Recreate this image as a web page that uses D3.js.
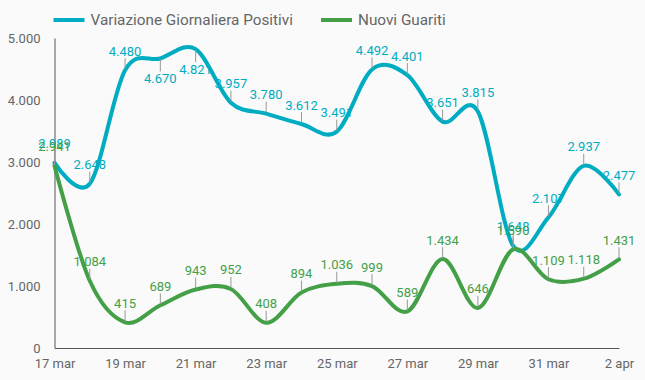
<!DOCTYPE html>
<html>
<head>
<meta charset="utf-8">
<script src="https://cdn.jsdelivr.net/npm/d3@7"></script>
<style>
  html, body { margin: 0; padding: 0; background: #fafafa; }
  svg { display: block; font-family: Roboto, "Noto Sans", sans-serif; }
</style>
</head>
<body>
<svg id="chart" width="645" height="380"></svg>
<script>
// ---- data ----
const dates = ["17 mar","18 mar","19 mar","20 mar","21 mar","22 mar","23 mar","24 mar","25 mar","26 mar","27 mar","28 mar","29 mar","30 mar","31 mar","1 apr","2 apr"];
const tickLabels = ["17 mar","19 mar","21 mar","23 mar","25 mar","27 mar","29 mar","31 mar","2 apr"];
const yTicks = [0, 1000, 2000, 3000, 4000, 5000];
const positivi = [2989, 2648, 4480, 4670, 4821, 3957, 3780, 3612, 3491, 4492, 4401, 3651, 3815, 1648, 2107, 2937, 2477];
const guariti  = [2941, 1084, 415, 689, 943, 952, 408, 894, 1036, 999, 589, 1434, 646, 1590, 1109, 1118, 1431];
const seriesNames = ["Variazione Giornaliera Positivi", "Nuovi Guariti"];

// ---- layout / style ----
const colors = ["#00acc1", "#43a047"];
const plot = { left: 54.5, right: 619, top: 38, bottom: 348 };
const svg = d3.select("#chart");
const it = d3.formatLocale({ decimal: ",", thousands: ".", grouping: [3], currency: ["€", ""] });
const fmt = it.format(",d");

const x = d3.scalePoint().domain(dates).range([plot.left, plot.right]);
const y = d3.scaleLinear().domain([0, 5000]).range([plot.bottom, plot.top]);

// axes
const gx = svg.append("g").attr("transform", `translate(0,${plot.bottom})`)
  .call(d3.axisBottom(x).tickValues(tickLabels).tickSize(0).tickSizeOuter(0).tickPadding(11));
const gy = svg.append("g").attr("transform", `translate(${plot.left},0)`)
  .call(d3.axisLeft(y).tickValues(yTicks).tickFormat(fmt).tickSize(0).tickSizeOuter(0).tickPadding(14));
[gx, gy].forEach(g => {
  g.select(".domain").attr("stroke", "#555").attr("stroke-width", 1);
  g.selectAll("text").attr("fill", "#666").style("font-size", "13px").style("font-family", "Roboto");
});

// lines
const line = d3.line()
  .x((d, i) => x(dates[i]))
  .y(d => y(d))
  .curve(d3.curveCardinal.tension(0));

const all = [positivi, guariti];
all.forEach((vals, s) => {
  svg.append("path")
    .datum(vals)
    .attr("fill", "none")
    .attr("stroke", colors[s])
    .attr("stroke-width", 4)
    .attr("stroke-linejoin", "round")
    .attr("stroke-linecap", "round")
    .attr("d", line);
});

// annotations
all.forEach((vals, s) => {
  const g = svg.append("g");
  vals.forEach((v, i) => {
    const px = x(dates[i]);
    const py = y(v);
    const below = (py - 14.5 - 9.2) < plot.top;
    g.append("line")
      .attr("x1", px).attr("x2", px)
      .attr("y1", below ? py + 1 : py - 1)
      .attr("y2", below ? py + 13 : py - 12)
      .attr("stroke", "#999").attr("stroke-width", 1);
    g.append("text")
      .attr("x", px)
      .attr("y", below ? py + 25 : py - 14.5)
      .attr("text-anchor", "middle")
      .attr("fill", colors[s])
      .style("font-size", "13px")
      .text(fmt(v));
  });
});

// legend
const legendX = [53.5, 321];
seriesNames.forEach((name, s) => {
  const lx = legendX[s];
  svg.append("line")
    .attr("x1", lx).attr("x2", lx + 31)
    .attr("y1", 20).attr("y2", 20)
    .attr("stroke", colors[s]).attr("stroke-width", 4);
  svg.append("text")
    .attr("x", lx + 37).attr("y", 25.2)
    .attr("fill", "#666")
    .style("font-size", "15.3px")
    .text(name);
});
</script>
</body>
</html>
